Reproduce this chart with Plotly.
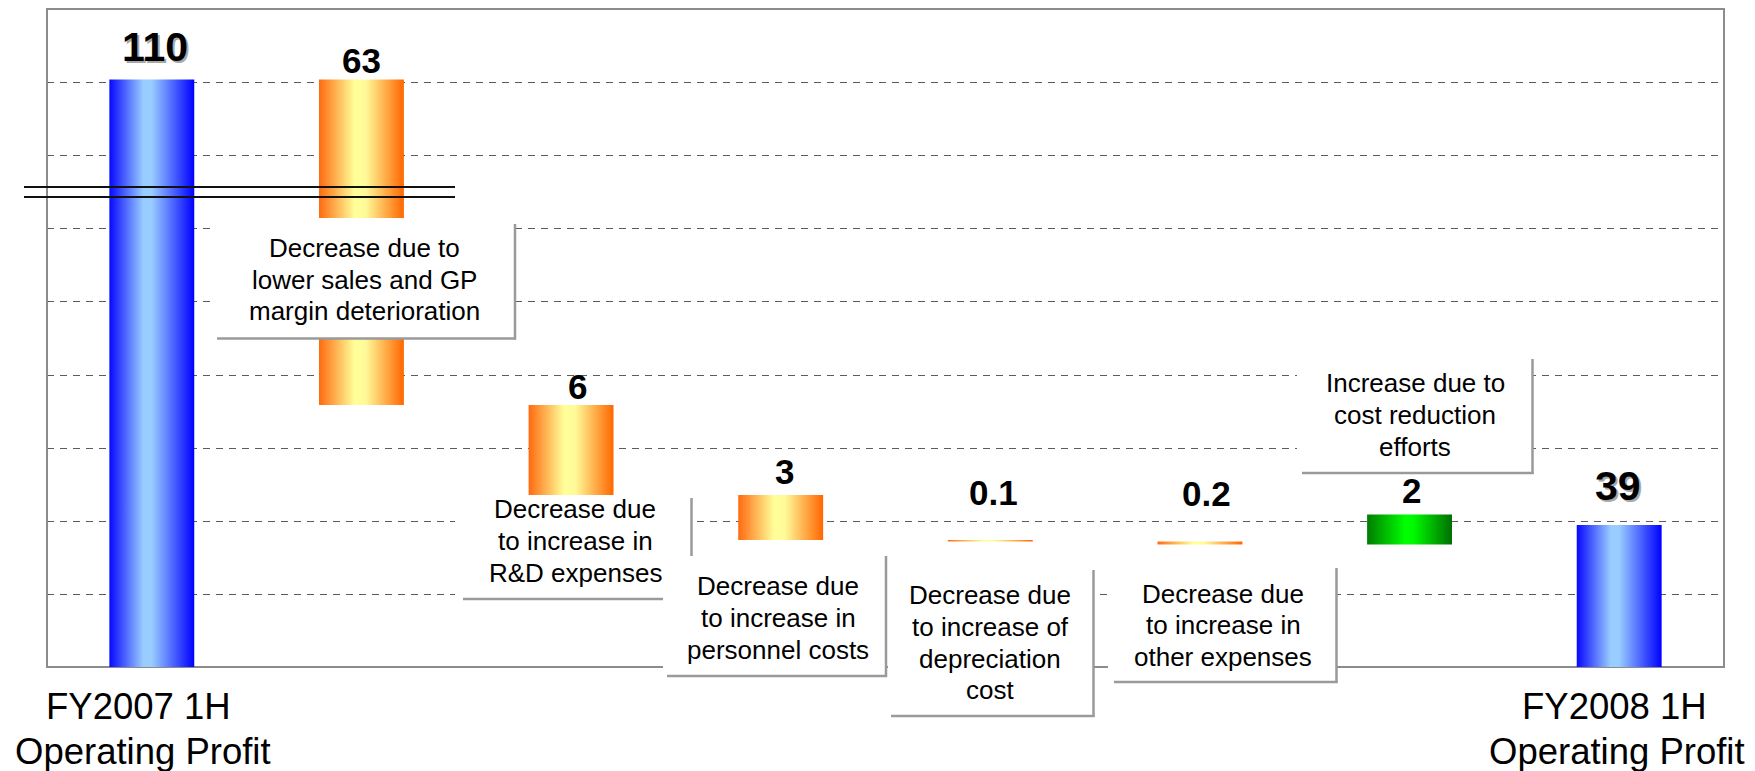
import plotly.graph_objects as go
from plotly.subplots import make_subplots

# Operating profit bridge between the two half-year results (100 million yen)
period_labels = ["FY2007 1H", "FY2008 1H"]
profit_caption = "Operating Profit"
start_profit = 110
end_profit = 39
change_values = [-63, -6, -3, -0.1, -0.2, 2]
change_notes = [
    ["Decrease due to", "lower sales and GP", "margin deterioration"],
    ["Decrease due", "to increase in", "R&D expenses"],
    ["Decrease due", "to increase in", "personnel costs"],
    ["Decrease due", "to increase of", "depreciation", "cost"],
    ["Decrease due", "to increase in", "other expenses"],
    ["Increase due to", "cost reduction", "efforts"],
]

# ---- page geometry -------------------------------------------------------
FONT = "Liberation Sans, Arial, sans-serif"
W, H = 1755, 771
PLOT_L, PLOT_R, PLOT_T, PLOT_B = 47, 1724, 9, 667
PLOT_W = PLOT_R - PLOT_L
PLOT_H = PLOT_B - PLOT_T


def xp(px):
    return (px - PLOT_L) / PLOT_W


def yp(py):
    return (PLOT_B - py) / PLOT_H


# broken value axis: compressed upper band, zoomed lower band
BREAK_PX = 192
UPPER_RANGE = [78, 130]
LOWER_RANGE = [29.53, 61.2]
BAR_HALF = 0.2025

BLUE = [[0, "#0808ff"], [0.4, "#99ccff"], [0.5, "#99ccff"], [1, "#0000ff"]]
ORANGE = [[0, "#ff6a10"], [0.42, "#ffff99"], [0.55, "#fffa99"], [1, "#ff6600"]]
GREEN = [[0, "#007c00"], [0.45, "#00ff00"], [0.55, "#00f800"], [1, "#006e00"]]
SCALES = {"total": BLUE, "down": ORANGE, "up": GREEN}

# ---- waterfall segments ----------------------------------------------------
segments = [(0, 0, start_profit, "total")]
level = start_profit
for i, d in enumerate(change_values, start=1):
    new_level = round(level + d, 6)
    segments.append((i, min(level, new_level), max(level, new_level),
                     "down" if d < 0 else "up"))
    level = new_level
segments.append((len(change_values) + 1, 0, end_profit, "total"))

fig = make_subplots(rows=2, cols=1, shared_xaxes=True, vertical_spacing=0)
for x, lo, hi, kind in segments:
    x0, x1 = x - BAR_HALF, x + BAR_HALF
    for row in (1, 2):
        fig.add_trace(
            go.Scatter(
                x=[x0, x1, x1, x0, x0],
                y=[lo, lo, hi, hi, lo],
                mode="lines",
                fill="toself",
                line=dict(width=0),
                fillgradient=dict(type="horizontal", colorscale=SCALES[kind]),
                hoverinfo="skip",
                showlegend=False,
            ),
            row=row, col=1,
        )

shapes = []
annotations = []

# dashed guide lines
for k in range(1, 9):
    y = yp(round(PLOT_B - k * PLOT_H / 9) + 0.5)
    shapes.append(dict(type="line", xref="paper", yref="paper", x0=0, x1=1,
                       y0=y, y1=y, layer="below",
                       line=dict(color="#5c5c5c", width=1, dash="7px,6px")))

# plot frame
shapes.append(dict(type="rect", xref="paper", yref="paper", x0=0, x1=1, y0=0, y1=1,
                   layer="below", line=dict(color="#8c8c8c", width=2)))

# axis-break marks
for by in (187, 197):
    shapes.append(dict(type="line", xref="paper", yref="paper",
                       x0=xp(24), x1=xp(455), y0=yp(by), y1=yp(by), layer="above",
                       line=dict(color="#111111", width=2)))

# callout boxes: white panel with a grey drop edge on the right and bottom
boxes = [
    dict(rect=(210, 218, 514, 338), right=(515, 224), bottom=(217, 338.5), cx=364,
         lines_y=[248, 279.5, 311]),
    dict(rect=(455, 498, 691, 599), right=(691.5, 498), bottom=(463, 599), cx=575,
         lines_y=[509, 541, 573]),
    dict(rect=(663, 556, 886, 676), right=(886, 556), bottom=(667, 676), cx=778,
         lines_y=[586, 618, 650]),
    dict(rect=(888, 563, 1093, 716), right=(1093.5, 570), bottom=(891, 716), cx=990,
         lines_y=[595, 627, 659, 690]),
    dict(rect=(1108, 565, 1336, 682), right=(1336.5, 568), bottom=(1114, 682), cx=1223,
         lines_y=[594, 625, 657]),
    dict(rect=(1297, 355, 1532, 473), right=(1532.5, 359), bottom=(1302, 473), cx=1415,
         lines_y=[383, 415, 447]),
]
EDGE = dict(color="#9a9a9a", width=2.5)
for box, note in zip(boxes, change_notes):
    rx0, ry0, rx1, ry1 = box["rect"]
    shapes.append(dict(type="rect", xref="paper", yref="paper",
                       x0=xp(rx0), x1=xp(rx1), y0=yp(ry1), y1=yp(ry0),
                       layer="above", fillcolor="white", line=dict(width=0)))
    ex, ey = box["right"]
    bx, by = box["bottom"]
    shapes.append(dict(type="line", xref="paper", yref="paper",
                       x0=xp(ex), x1=xp(ex), y0=yp(ey), y1=yp(by + 1),
                       layer="above", line=EDGE))
    shapes.append(dict(type="line", xref="paper", yref="paper",
                       x0=xp(bx), x1=xp(ex + 1), y0=yp(by), y1=yp(by),
                       layer="above", line=EDGE))
    for text, ly in zip(note, box["lines_y"]):
        annotations.append(dict(text=text, xref="paper", yref="paper",
                                x=xp(box["cx"]), y=yp(ly), showarrow=False,
                                xanchor="center", yanchor="middle",
                                font=dict(family=FONT, size=26, color="#000000")))

# value labels above each bar
value_texts = [f"{start_profit:g}"] + [f"{abs(d):g}" for d in change_values] + [f"{end_profit:g}"]
label_pos = [(155, 47.5), (361, 61), (577, 386), (784, 471.5), (993, 492.5),
             (1206, 493), (1411, 490.5), (1617.5, 486)]
for i, (text, (lx, ly)) in enumerate(zip(value_texts, label_pos)):
    is_total = i in (0, len(value_texts) - 1)
    size = 41 if is_total else 35
    if is_total:
        annotations.append(dict(text=text, xref="paper", yref="paper",
                                x=xp(lx), y=yp(ly), xshift=2, yshift=-2,
                                showarrow=False, xanchor="center", yanchor="middle",
                                font=dict(family=FONT, size=size, color="#a8a8a8",
                                          weight="bold")))
    annotations.append(dict(text=text, xref="paper", yref="paper",
                            x=xp(lx), y=yp(ly), showarrow=False,
                            xanchor="center", yanchor="middle",
                            font=dict(family=FONT, size=size, color="#000000",
                                      weight="bold")))

# period captions under the two total bars
for period, (cx1, cx2) in zip(period_labels, [(138.5, 143), (1614, 1617)]):
    for text, cx, ly in ((period, cx1, 707), (profit_caption, cx2, 751)):
        annotations.append(dict(text=text, xref="paper", yref="paper",
                                x=xp(cx), y=yp(ly), showarrow=False,
                                xanchor="center", yanchor="middle",
                                font=dict(family=FONT, size=36.5, color="#000000")))

fig.update_layout(
    width=W, height=H,
    margin=dict(l=PLOT_L, r=W - PLOT_R, t=PLOT_T, b=H - PLOT_B, pad=0),
    plot_bgcolor="white", paper_bgcolor="white",
    showlegend=False, hovermode=False,
    shapes=shapes, annotations=annotations,
)
fig.update_xaxes(range=[-0.5, 7.5], visible=False)
fig.update_yaxes(visible=False)
fig.layout.yaxis.update(domain=[yp(BREAK_PX), 1], range=UPPER_RANGE)
fig.layout.yaxis2.update(domain=[0, yp(BREAK_PX)], range=LOWER_RANGE)

fig.write_html("out.html")
